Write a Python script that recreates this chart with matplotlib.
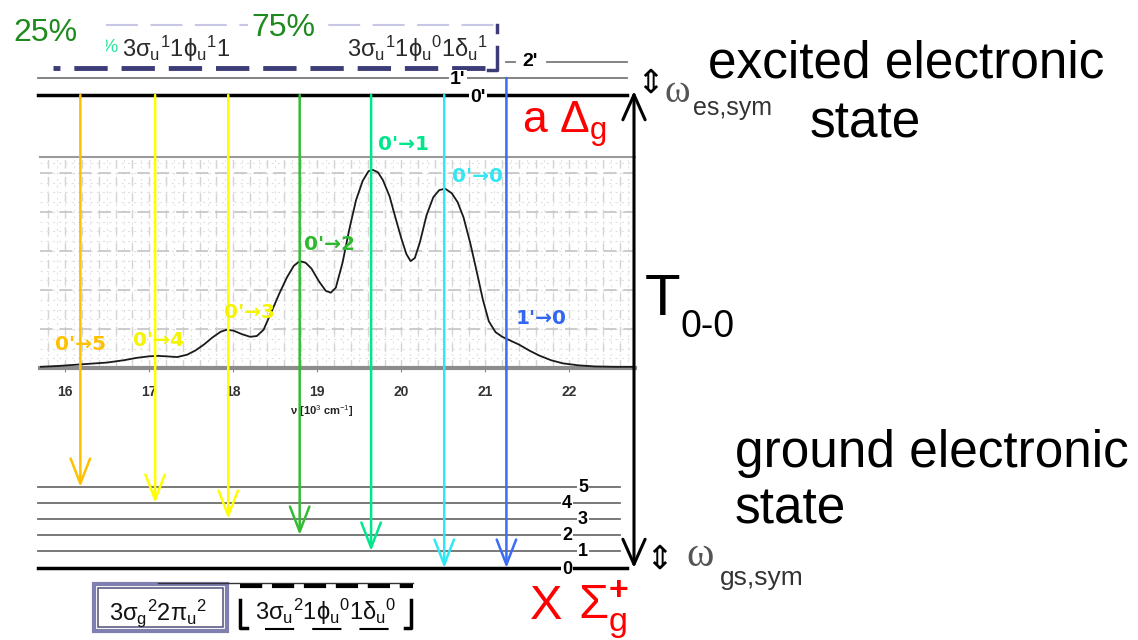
import numpy as np
import matplotlib
matplotlib.use("Agg")
import matplotlib.pyplot as plt
import matplotlib.transforms as mtransforms
from matplotlib.patches import Rectangle

plt.rcParams['font.family'] = ['Liberation Sans', 'DejaVu Sans']
plt.rcParams['mathtext.fontset'] = 'custom'
plt.rcParams['mathtext.rm'] = 'Liberation Sans'
plt.rcParams['mathtext.it'] = 'Liberation Sans'
plt.rcParams['mathtext.bf'] = 'Liberation Sans:bold'
plt.rcParams['lines.scale_dashes'] = False

# ---- absorption spectrum (wavenumber in 10^3 cm^-1, relative absorbance) ----
nu_spec = [15.70, 15.90, 16.10, 16.30, 16.50, 16.70, 16.85, 17.00, 17.10, 17.20,
           17.33, 17.45, 17.55, 17.65, 17.75, 17.85, 17.92, 18.00, 18.10, 18.20,
           18.28, 18.36, 18.45, 18.55, 18.64, 18.72, 18.79, 18.86, 18.93, 19.02,
           19.10, 19.16, 19.22, 19.30, 19.38, 19.46, 19.54, 19.61, 19.66, 19.72,
           19.78, 19.86, 19.93, 20.00, 20.06, 20.11, 20.16, 20.22, 20.30, 20.38,
           20.45, 20.52, 20.60, 20.67, 20.74, 20.82, 20.90, 20.97, 21.04, 21.12,
           21.20, 21.28, 21.40, 21.52, 21.64, 21.78, 21.92, 22.10, 22.30, 22.55,
           22.78]
absorbance = [0.03, 0.05, 0.08, 0.11, 0.14, 0.20, 0.26, 0.30, 0.31, 0.30,
              0.28, 0.34, 0.45, 0.60, 0.78, 0.93, 0.98, 0.96, 0.87, 0.80,
              0.82, 0.98, 1.42, 1.92, 2.33, 2.62, 2.74, 2.70, 2.55, 2.22,
              1.98, 1.93, 2.06, 2.70, 3.55, 4.30, 4.80, 5.05, 5.08, 5.02,
              4.82, 4.40, 3.85, 3.32, 2.92, 2.74, 2.82, 3.22, 3.92, 4.38,
              4.56, 4.60, 4.48, 4.25, 3.86, 3.20, 2.44, 1.75, 1.20, 0.92,
              0.80, 0.72, 0.60, 0.45, 0.32, 0.20, 0.12, 0.07, 0.04, 0.03,
              0.03]
tick_nu = [16, 17, 18, 19, 20, 21, 22]

# ---- vibronic transitions ----
transition_labels = ["0'\u21925", "0'\u21924", "0'\u21923", "0'\u21922",
                     "0'\u21921", "0'\u21920", "1'\u21920"]
transition_nu = [16.18, 17.07, 17.94, 18.79, 19.64, 20.51, 21.25]
upper_v = [0, 0, 0, 0, 0, 0, 1]
lower_v = [5, 4, 3, 2, 1, 0, 0]
arrow_colors = ['#FFC000', '#FFFF00', '#FFFF00', '#33BB33', '#00E68C', '#2EE8F5', '#3A6CF5']
label_colors = ['#FFC000', '#F5F500', '#F5F500', '#2DB82D', '#00E68C', '#33E6F2', '#3366F0']

excited_names = ["0'", "1'", "2'"]
ground_names = ["0", "1", "2", "3", "4", "5"]

W, H = 1138, 640
fig = plt.figure(figsize=(W / 100, H / 100), dpi=100)


def frame(x0, y0, x1, y1):
    return [x0 / W, 1 - y1 / H, (x1 - x0) / W, (y1 - y0) / H]


# ---------------- spectrum panel ----------------
spec = fig.add_axes(frame(40, 157, 635, 368))
spec.set_xlim(15.70, 22.78)
spec.set_ylim(0, 211 / 39)
for v in np.arange(15.8, 22.79, 0.1):
    spec.axvline(v, color='#E2E2E2', lw=0.8, ls=(0, (1.5, 3)), zorder=0)
for v in np.arange(15.8, 22.79, 0.2):
    spec.axvline(v, color='#D4D4D4', lw=1.0, ls=(0, (6, 6)), zorder=0)
for h in np.arange(0.25, 5.4, 0.25):
    spec.axhline(h, color='#E0E0E0', lw=0.8, ls=(0, (1.5, 3)), zorder=0)
for h in range(1, 6):
    spec.axhline(h, color='#C8C8C8', lw=1.3, ls=(0, (9, 5)), zorder=0)
spec.plot(nu_spec, absorbance, color='#1A1A1A', lw=1.3, zorder=4)
spec.set_yticks([])
spec.set_xticks(tick_nu)
spec.set_xticklabels([str(t) for t in tick_nu], fontsize=10, fontweight='bold', color='#333333')
spec.tick_params(axis='x', length=3, color='#888888', pad=9)
spec.spines['left'].set_visible(False)
spec.spines['right'].set_visible(False)
spec.spines['top'].set_color('#9A9A9A')
spec.spines['top'].set_linewidth(1.5)
spec.spines['bottom'].set_color('#8C8C8C')
spec.spines['bottom'].set_linewidth(3)
spec.set_xlabel("\u03bd [10$^3$ cm$^{-1}$]", fontsize=8, fontweight='bold', color='#222222')
spec.xaxis.set_label_coords((322 - 40) / 595, -(411 - 368) / 211)
spec.xaxis.label.set_va('center')

# ---------------- level diagram overlay ----------------
ov = fig.add_axes([0, 0, 1, 1], zorder=3)
ov.set_xlim(0, W)
ov.set_ylim(H, 0)
ov.axis('off')

excited_y = [95, 78, 62]
ground_y = [568, 551, 535, 519, 503, 487]

# excited-state vibrational levels
ov.plot([38, 627], [excited_y[0]] * 2, color='black', lw=2.5)
ov.plot([38, 627], [excited_y[1]] * 2, color='#7A7A7A', lw=1.3)
ov.plot([547, 627], [excited_y[2]] * 2, color='#7A7A7A', lw=1.3)
ov.plot([506, 515], [excited_y[2]] * 2, color='#7A7A7A', lw=1.3)
lab_box = dict(boxstyle='square,pad=0.05', fc='white', ec='none')
for name, (x, y) in zip(excited_names, [(478, 97), (458, 79), (530, 62)]):
    ov.text(x, y, name, fontsize=14, fontweight='bold', ha='center', va='center', bbox=lab_box)

# ground-state vibrational levels
ov.plot([38, 627], [ground_y[0]] * 2, color='black', lw=2.5)
for y in ground_y[1:]:
    ov.plot([38, 620], [y, y], color='#6E6E6E', lw=1.3)
for i, name in enumerate(ground_names):
    x = 567 if i % 2 == 0 else 583
    y = ground_y[i] + (2 if i == 0 else 0)
    ov.text(x, y, name, fontsize=13, fontweight='bold', ha='center', va='center', bbox=lab_box)

# transition arrows, placed on the wavenumber scale of the spectrum
blend = mtransforms.blended_transform_factory(spec.transData, ov.transData)
for nu, up, lo, c in zip(transition_nu, upper_v, lower_v, arrow_colors):
    ov.annotate('', xy=(nu, ground_y[lo]), xytext=(nu, excited_y[up]),
                xycoords=blend, textcoords=blend,
                arrowprops=dict(arrowstyle='->,head_length=1.8,head_width=0.7',
                                color=c, lw=1.8, shrinkA=0, shrinkB=0, mutation_scale=10))

label_pos = [(81, 345), (159, 341), (250, 312), (330, 245), (404, 144), (478, 176), (541, 318)]
for txt, (x, y), c in zip(transition_labels, label_pos, label_colors):
    ov.text(x, y, txt, fontsize=14.5, fontweight='bold', color=c, ha='center', va='center',
            family='DejaVu Sans')

# T0-0 electronic gap
ov.annotate('', xy=(634, 91), xytext=(634, 568),
            arrowprops=dict(arrowstyle='<->,head_length=1.8,head_width=0.8',
                            color='black', lw=2.2, shrinkA=0, shrinkB=0, mutation_scale=10))
ov.text(645, 315, "T", fontsize=42, va='baseline', ha='left')
ov.text(681, 337, "0-0", fontsize=27, va='baseline', ha='left')

# vibrational quanta
ov.text(650, 83, "\u21d5", fontsize=24, ha='center', va='center', family='DejaVu Sans')
ov.text(677, 92, "\u03c9", fontsize=28, color='#555555', family='Liberation Serif', ha='center', va='center')
ov.text(693, 108, "es,sym", fontsize=18, color='#333333', ha='left', va='center')
ov.text(659, 559, "\u21d5", fontsize=24, ha='center', va='center', family='DejaVu Sans')
ov.text(700, 556, "\u03c9", fontsize=30, color='#555555', family='Liberation Serif', ha='center', va='center')
ov.text(720, 578, "gs,sym", fontsize=19, color='#333333', ha='left', va='center')

# state names
ov.text(708, 78, "excited electronic", fontsize=37, ha='left', va='baseline')
ov.text(865, 138, "state", fontsize=37, ha='center', va='baseline')
ov.text(735, 467, "ground electronic", fontsize=37, ha='left', va='baseline')
ov.text(735, 523, "state", fontsize=37, ha='left', va='baseline')
ov.text(522, 133, "a \u0394$_g$", fontsize=32, color='red', ha='left', va='baseline')
ov.text(530, 619, "X", fontsize=35, color='red', ha='left', va='baseline')
ov.text(578, 619, "\u03a3$_g^{\\mathbf{+}}$", fontsize=35, color='red', ha='left', va='baseline')

# excited-state configurations
ov.text(45, 33, "25%", fontsize=23, color='#1F8A1F', ha='center', va='center')
ov.plot([106, 496], [25, 25], color='#C8C8E6', lw=1.5, ls=(0, (23, 9)))
ov.text(283, 28, "75%", fontsize=23, color='#1F8A1F', ha='center', va='center',
        bbox=dict(boxstyle='square,pad=0.1', fc='white', ec='none'))
pct = ov.text(100, 48, "%", fontsize=14, color='#2EE6A0', ha='left', va='center', clip_on=True)
pct.set_clip_path(Rectangle((106, 30), 20, 35, transform=ov.transData))
ov.text(122, 57, "3\u03c3$_u$$^1$1\u03d5$_u$$^1$1", fontsize=17, color='#2A2A2A', ha='left', va='baseline')
ov.text(347, 57, "3\u03c3$_u$$^1$1\u03d5$_u$$^0$1\u03b4$_u$$^1$", fontsize=17, color='#2A2A2A',
        ha='left', va='baseline')
ov.plot([53, 497], [68, 68], color='#3C3C78', lw=3.5, ls=(19, (24, 10)))
ov.plot([497, 497], [25, 32], color='#3C3C78', lw=2.5)
ov.plot([497, 497, 488], [47, 70, 70], color='#3C3C78', lw=2.5)

# ground-state configurations
ov.add_patch(Rectangle((94, 584), 133, 47, fc='white', ec='#8080B0', lw=3))
ov.add_patch(Rectangle((98, 588), 125, 39, fc='none', ec='#50507A', lw=1.1))
ov.text(109, 620, "3\u03c3$_g$$^2$2\u03c0$_u$$^2$", fontsize=17, color='#111111', ha='left', va='baseline')
ov.plot([158, 413], [583, 583], color='#333333', lw=1)
ov.plot([240, 413], [586, 586], color='black', lw=3, ls=(0, (16, 7)))
ov.plot([247, 240, 240], [628, 628, 600], color='black', lw=2.5)
ov.plot([405, 411, 411], [628, 628, 600], color='black', lw=2.5)
ov.plot([265, 390], [629, 629], color='black', lw=1.5, ls=(0, (21, 13)))
ov.text(255, 620, "3\u03c3$_u$$^2$1\u03d5$_u$$^0$1\u03b4$_u$$^0$", fontsize=17, color='#111111',
        ha='left', va='baseline')

fig.savefig("out.png", dpi=100)
